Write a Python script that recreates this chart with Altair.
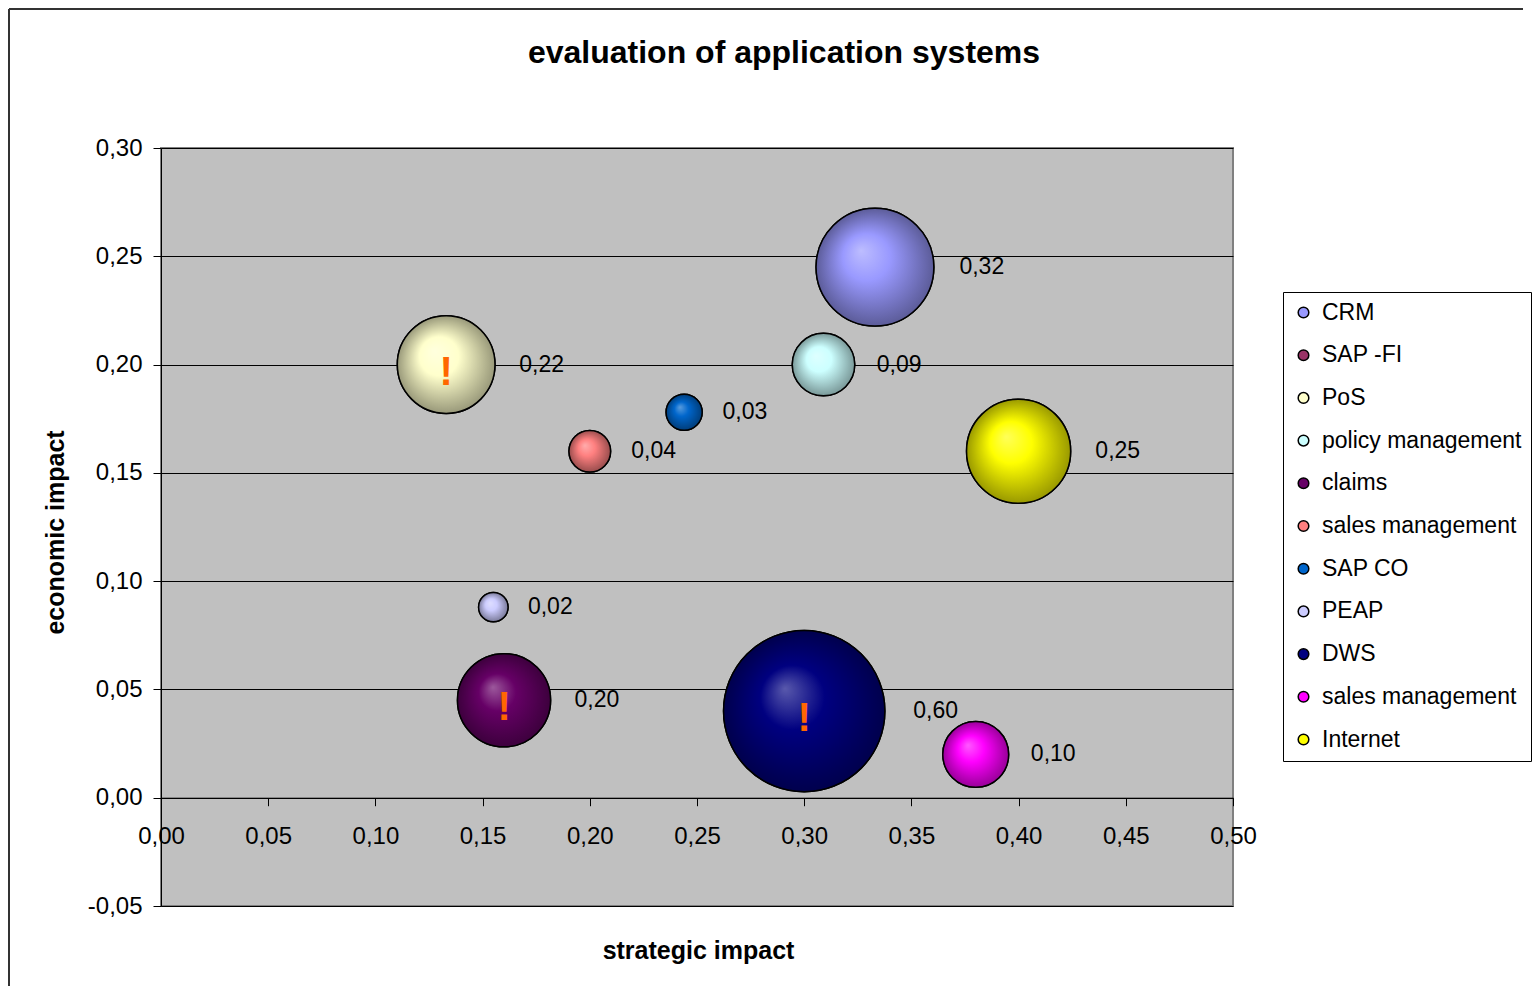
import math
import altair as alt
import pandas as pd

# ---------------- data ----------------
names = ["CRM", "SAP -FI", "PoS", "policy management", "claims",
         "sales management", "SAP CO", "PEAP", "DWS", "sales management ", "Internet"]
colors = ["#9999FF", "#993366", "#FFFFCC", "#CCFFFF", "#660066",
          "#FF8080", "#0066CC", "#CCCCFF", "#000080", "#FF00FF", "#FFFF00"]
strategic = [0.333, None, 0.133, 0.309, 0.160, 0.200, 0.244, 0.155, 0.300, 0.380, 0.400]
economic = [0.245, None, 0.200, 0.200, 0.045, 0.160, 0.178, 0.088, 0.040, 0.020, 0.160]
bubble = [0.32, None, 0.22, 0.09, 0.20, 0.04, 0.03, 0.02, 0.60, 0.10, 0.25]
warning = [False, False, True, False, True, False, False, False, True, False, False]

x_ticks = [0.00, 0.05, 0.10, 0.15, 0.20, 0.25, 0.30, 0.35, 0.40, 0.45, 0.50]
y_ticks = [-0.05, 0.00, 0.05, 0.10, 0.15, 0.20, 0.25, 0.30]

# ---------------- layout / style ----------------
W, H = 1072, 758
X_DOM = [0.0, 0.5]
Y_DOM = [-0.05, 0.30]
FONT = "Liberation Sans"
MAX_R = 91.0                       # pixel radius of the largest bubble
SIZE_RANGE = math.pi * MAX_R ** 2  # area (px^2) for the largest value
MAX_V = 0.60
PX_PER_X = W / (X_DOM[1] - X_DOM[0])
LABEL_GAP = 18

df = pd.DataFrame({"name": names, "x": strategic, "y": economic,
                   "v": bubble, "warn": warning, "color": colors})
pts = df.dropna(subset=["x"]).copy()

def mix(hexc, t, target):
    h = hexc.lstrip("#")
    rgb = [int(h[i:i + 2], 16) for i in (0, 2, 4)]
    out = [round(c + (target - c) * t) for c in rgb]
    return "#" + "".join(f"{c:02X}" for c in out)

def gradient(base):
    return {
        "gradient": "radial",
        "x1": 0.38, "y1": 0.36, "r1": 0.0,
        "x2": 0.5, "y2": 0.5, "r2": 0.5,
        "stops": [
            {"offset": 0.0, "color": mix(base, 0.35, 255)},
            {"offset": 0.40, "color": base},
            {"offset": 1.0, "color": mix(base, 0.40, 0)},
        ],
    }

label_expr = "(datum.value < 0 ? '-' : '') + replace(format(abs(datum.value), '.2f'), '.', ',')"

xs = alt.Scale(domain=X_DOM, nice=False, zero=False)
ys = alt.Scale(domain=Y_DOM, nice=False, zero=False)
ss = alt.Scale(type="linear", domain=[0, MAX_V], range=[0, SIZE_RANGE], zero=True)

x_axis = alt.Axis(
    values=x_ticks, labelExpr=label_expr, grid=False,
    domainColor="black", domainWidth=1, tickColor="black", tickSize=8,
    offset=-H * (0 - Y_DOM[0]) / (Y_DOM[1] - Y_DOM[0]),
    labelPadding=19, labelFontSize=24, labelFont=FONT, labelColor="black",
    labelFlush=False, labelOverlap=False, labelBound=False,
    title="strategic impact", titleFont=FONT, titleFontSize=25,
    titleFontWeight="bold", titleColor="black",
    titleX=537, titleY=153, titleAlign="center", titleBaseline="middle",
)
y_axis = alt.Axis(
    values=y_ticks, labelExpr=label_expr, grid=True,
    gridColor="black", gridWidth=1, gridOpacity=1,
    domainColor="black", domainWidth=1, tickColor="black", tickSize=8,
    labelPadding=11, labelFontSize=24, labelFont=FONT, labelColor="black",
    labelOverlap=False, labelFlush=False,
    title="economic impact", titleFont=FONT, titleFontSize=25,
    titleFontWeight="bold", titleColor="black",
    titleX=-106, titleY=384, titleAlign="center", titleBaseline="middle",
    titleAngle=270,
)

def X(field):
    return alt.X(f"{field}:Q", scale=xs, axis=x_axis)

def Y(field):
    return alt.Y(f"{field}:Q", scale=ys, axis=y_axis)

size_enc = alt.Size("v:Q", scale=ss, legend=None)

# outer chart frame (left and top edges; the rest runs off the page)
one = pd.DataFrame({"a": [0]})
frame_left = alt.Chart(one).mark_rule(color="#333333", strokeWidth=2).encode(
    x=alt.value(-152), y=alt.value(-139), y2=alt.value(H + 80)
)
frame_top = alt.Chart(one).mark_rule(color="#333333", strokeWidth=2).encode(
    x=alt.value(-152), x2=alt.value(1362), y=alt.value(-139)
)

order = pts.sort_values("v", ascending=False)

base = alt.Chart(order).mark_circle(
    opacity=1, stroke="black", strokeWidth=1.5
).encode(
    x=X("x"), y=Y("y"), size=size_enc,
    color=alt.Color(
        "name:N",
        scale=alt.Scale(domain=names, range=colors),
        legend=alt.Legend(
            title=None, orient="none", legendX=1122, legendY=144,
            fillColor="white", strokeColor="black", padding=9,
            labelFont=FONT, labelFontSize=23, labelColor="black", labelLimit=500,
            symbolType="circle", symbolSize=113, symbolStrokeColor="black",
            symbolStrokeWidth=1.5, symbolOpacity=1, rowPadding=18.7, labelOffset=7,
        ),
    ),
    order=alt.Order("v:Q", sort="descending"),
)

overlays = []
for _, row in order.iterrows():
    overlays.append(
        alt.Chart(order).transform_filter(alt.datum.name == row["name"]).mark_circle(
            fill=gradient(row["color"]), opacity=1, stroke="black", strokeWidth=1.5
        ).encode(x=X("x"), y=Y("y"), size=size_enc)
    )

labels = alt.Chart(order).transform_calculate(
    lx=f"datum.x + (sqrt(datum.v * {SIZE_RANGE / MAX_V} / PI) + {LABEL_GAP}) / {PX_PER_X}",
    txt="replace(format(datum.v, '.2f'), '.', ',')",
).mark_text(
    align="left", baseline="middle", font=FONT, fontSize=23, color="black"
).encode(x=X("lx"), y=Y("y"), text="txt:N")

warn = alt.Chart(order).transform_filter("datum.warn").mark_text(
    text="!", align="center", baseline="middle", font=FONT, fontSize=40,
    fontWeight="bold", color="#FF6600", dy=8,
).encode(x=X("x"), y=Y("y"))

chart = alt.layer(frame_left, frame_top, base, *overlays, labels, warn).properties(
    width=W, height=H, padding=0,
    title=alt.TitleParams(
        "evaluation of application systems", font=FONT, fontSize=32,
        fontWeight="bold", color="black", anchor="middle", frame="group",
        dx=87, offset=-62,
    ),
).configure_view(
    fill="#C0C0C0", stroke="#808080", strokeWidth=2
)

chart.save("out.html", embed_options={"renderer": "svg", "actions": False})
